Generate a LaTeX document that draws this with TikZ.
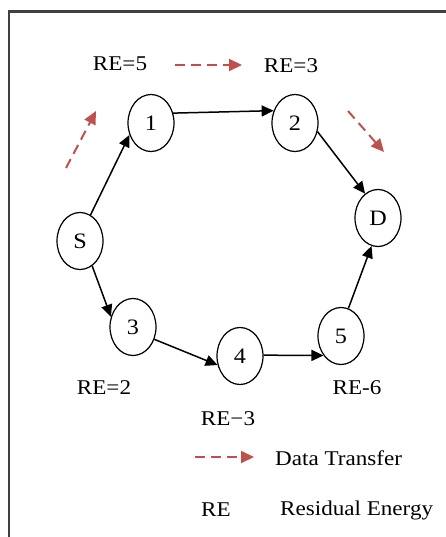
\documentclass[tikz,border=0pt]{standalone}
\usepackage{fontspec}
\setmainfont[FakeStretch=1.1]{Liberation Serif}
\usetikzlibrary{shapes.geometric,arrows.meta}
\definecolor{flowred}{RGB}{192,80,77}
\tikzset{
  hop/.style={ellipse,draw=black,line width=1.2pt,inner sep=0pt,
    minimum width=46pt,minimum height=57pt,font=\fontsize{22}{24}\selectfont},
  lbl/.style={inner sep=0pt,font=\fontsize{21}{24}\selectfont},
  link/.style={line width=1.5pt,-{Triangle[length=12pt,width=11pt]}},
  flow/.style={draw=flowred,line width=2pt,dash pattern=on 10pt off 6pt,
    -{Triangle[length=13pt,width=12pt]}},
}
\begin{document}
\begin{tikzpicture}[x=1pt,y=-1pt]
\useasboundingbox (0,0) rectangle (446,537);
% frame
\draw[line width=2.4pt,draw=black!75] (9,537) -- (9,11.5) -- (446,11.5);

% nodes
\node[hop] (S)  at (80,241)  {S};
\node[hop] (n1) at (151,123) {1};
\node[hop] (n2) at (295,123) {2};
\node[hop] (D)  at (378,218) {D};
\node[hop] (n3) at (133,327) {3};
\node[hop] (n4) at (240,356) {4};
\node[hop] (n5) at (341,336) {5};

% links
\draw[link] (S.68)   -- (n1.209);
\draw[link] (n1.24)  -- (n2.150);
\draw[link] (n2.339) -- (D.118);
\draw[link] (S.296)  -- (n3.155);
\draw[link] (n3.330) -- (n4.202);
\draw[link] (n4.2)   -- (n5.228);
\draw[link] (n5.75)  -- (D.257);

% residual energy labels
\node[lbl] (re5) at (120,64)  {RE=5};
\node[lbl] (re3) at (291,66)  {RE=3};
\node[lbl] (re2) at (104,388) {RE=2};
\node[lbl] (re6) at (357,388) {RE-6};
\node[lbl] (re3b) at (228,419) {RE−3};

% data transfer direction
\coordinate (fa1) at (66,168);  \coordinate (fa2) at (96,111);
\coordinate (fb1) at (175,65);  \coordinate (fb2) at (242,65);
\coordinate (fc1) at (348,111); \coordinate (fc2) at (384,152);
\draw[flow] (fa1) -- (fa2);
\draw[flow] (fb1) -- (fb2);
\draw[flow] (fc1) -- (fc2);

% legend
\coordinate (la1) at (195,457); \coordinate (la2) at (254,457);
\draw[flow] (la1) -- (la2);
\node[lbl,anchor=west] (ldt) at (275,458) {Data Transfer};
\node[lbl] (lre) at (216,510) {RE};
\node[lbl,anchor=west] (lrd) at (280,510) {Residual Energy};
\end{tikzpicture}
\end{document}
